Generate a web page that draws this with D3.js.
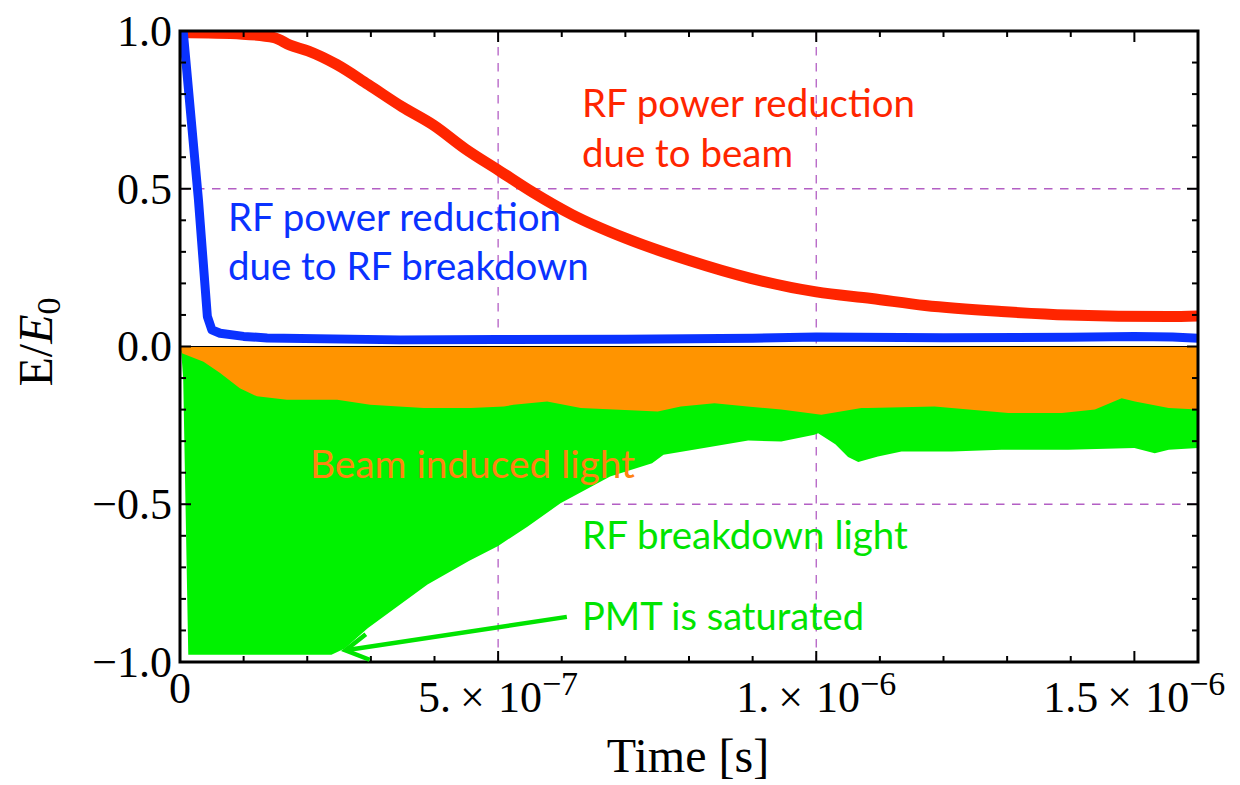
<!DOCTYPE html>
<html>
<head>
<meta charset="utf-8">
<script src="https://cdn.jsdelivr.net/npm/d3@7"></script>
<style>
  html, body { margin: 0; padding: 0; background: #fff; }
  svg { display: block; }
</style>
</head>
<body>
<svg id="chart" width="1240" height="785"></svg>
<script>
// Field decay and photomultiplier light signals versus time (time in microseconds).

// RF field, beam-loaded cavity
const redTimeUs = [0, 0.098, 0.148, 0.173, 0.201, 0.246, 0.296, 0.349, 0.399, 0.448, 0.502, 0.555, 0.616, 0.699, 0.798, 0.897, 1.0, 1.087, 1.171, 1.291, 1.396, 1.554, 1.6];
const redValue  = [0.995, 0.99, 0.979, 0.955, 0.937, 0.894, 0.83, 0.76, 0.701, 0.627, 0.557, 0.488, 0.418, 0.344, 0.274, 0.216, 0.173, 0.152, 0.13, 0.111, 0.1, 0.095, 0.097];

// RF field, breakdown event
const blueTimeUs = [0.005, 0.029, 0.043, 0.05, 0.063, 0.1, 0.137, 0.346, 0.5, 0.7, 0.9, 1.0, 1.2, 1.4, 1.5, 1.56, 1.6];
const blueValue  = [1.0, 0.465, 0.095, 0.053, 0.042, 0.032, 0.027, 0.021, 0.022, 0.023, 0.026, 0.03, 0.028, 0.029, 0.032, 0.03, 0.026];

// Light signal, beam induced (negative-going PMT trace)
const orangeTimeUs = [0, 0.003, 0.037, 0.063, 0.094, 0.121, 0.168, 0.247, 0.299, 0.383, 0.457, 0.509, 0.524, 0.577, 0.63, 0.682, 0.751, 0.787, 0.84, 0.892, 0.945, 1.008, 1.071, 1.081, 1.186, 1.302, 1.386, 1.438, 1.48, 1.501, 1.554, 1.6];
const orangeValue  = [0, -0.021, -0.048, -0.084, -0.132, -0.158, -0.169, -0.169, -0.185, -0.195, -0.195, -0.19, -0.185, -0.174, -0.195, -0.2, -0.206, -0.19, -0.18, -0.19, -0.2, -0.216, -0.195, -0.195, -0.19, -0.211, -0.211, -0.2, -0.164, -0.174, -0.195, -0.2];

// Light signal, RF breakdown (saturates near -1)
const greenTimeUs = [0, 0.002, 0.005, 0.013, 0.238, 0.259, 0.295, 0.346, 0.389, 0.454, 0.5, 0.546, 0.598, 0.676, 0.742, 0.76, 0.814, 0.893, 0.945, 0.997, 1.003, 1.03, 1.05, 1.066, 1.097, 1.134, 1.213, 1.291, 1.396, 1.5, 1.532, 1.554, 1.6];
const greenValue  = [0, -0.02, -0.1, -0.977, -0.977, -0.957, -0.893, -0.818, -0.754, -0.68, -0.632, -0.571, -0.497, -0.412, -0.37, -0.343, -0.325, -0.298, -0.301, -0.28, -0.275, -0.31, -0.35, -0.366, -0.349, -0.333, -0.333, -0.327, -0.327, -0.322, -0.338, -0.327, -0.322];

// Axes
const xMajorTicks = [0, 0.5, 1.0, 1.5];
const xTickMantissa = ["0", "5.", "1.", "1.5"];
const xTickExponent = ["", "−7", "−6", "−6"];
const yMajorTicks = [-1, -0.5, 0, 0.5, 1];
const yTickLabels = ["−1.0", "−0.5", "0.0", "0.5", "1.0"];
const xGrid = [0.5, 1.0];
const yGrid = [-0.5, 0.5];

// Arrow pointing at the saturated PMT plateau: [tail, head]
const arrowTimeUs = [0.608, 0.26];
const arrowValue  = [-0.857, -0.963];

const svg = d3.select("#chart");
const plotLeft = 180, plotRight = 1198, plotTop = 31, plotBottom = 662;

const x = d3.scaleLinear().domain([0, 1.6]).range([plotLeft, plotRight]);
const y = d3.scaleLinear().domain([-1, 1]).range([plotBottom, plotTop]);

const serif = "'Liberation Serif', 'Times New Roman', serif";
const sans = "Lato, 'Open Sans', 'Noto Sans', sans-serif";

svg.append("defs").append("clipPath").attr("id", "plotClip")
  .append("rect").attr("x", plotLeft).attr("y", plotTop)
  .attr("width", plotRight - plotLeft).attr("height", plotBottom - plotTop);

// Grid lines (behind the data)
const gridColor = "#b35fc4";
const grid = svg.append("g").attr("stroke", gridColor).attr("stroke-width", 1.3).attr("stroke-dasharray", "8.5,7.5");
grid.selectAll("line.gx").data(xGrid).join("line").attr("class", "gx")
  .attr("x1", d => x(d)).attr("x2", d => x(d)).attr("y1", plotTop).attr("y2", plotBottom);
grid.selectAll("line.gy").data(yGrid).join("line").attr("class", "gy")
  .attr("x1", plotLeft).attr("x2", plotRight).attr("y1", d => y(d)).attr("y2", d => y(d));

const plot = svg.append("g").attr("clip-path", "url(#plotClip)");

const zip = (ts, vs) => ts.map((t, i) => [t, vs[i]]);

// Filled light signals
const area = d3.area().x(d => x(d[0])).y0(y(0)).y1(d => y(d[1]));
plot.append("path").datum(zip(greenTimeUs, greenValue))
  .attr("d", area).attr("fill", "#00f200");
plot.append("path").datum(zip(orangeTimeUs, orangeValue))
  .attr("d", area).attr("fill", "#ff9400");

// Zero line
plot.append("line").attr("x1", plotLeft).attr("x2", plotRight).attr("y1", y(0)).attr("y2", y(0))
  .attr("stroke", "#000").attr("stroke-width", 1.2);

// Field curves
const smoothLine = d3.line().x(d => x(d[0])).y(d => y(d[1])).curve(d3.curveMonotoneX);
const line = d3.line().x(d => x(d[0])).y(d => y(d[1]));
plot.append("path").datum(zip(redTimeUs, redValue))
  .attr("d", smoothLine).attr("fill", "none").attr("stroke", "#ff2500").attr("stroke-width", 11)
  .attr("stroke-linejoin", "round");
plot.append("path").datum([[0, 1.0]].concat(zip(blueTimeUs, blueValue)).slice(1))
  .attr("d", line).attr("fill", "none").attr("stroke", "#0a32ff").attr("stroke-width", 9)
  .attr("stroke-linejoin", "round");

// Frame and ticks
const axes = svg.append("g");
axes.append("rect").attr("x", plotLeft).attr("y", plotTop)
  .attr("width", plotRight - plotLeft).attr("height", plotBottom - plotTop)
  .attr("fill", "none").attr("stroke", "#000").attr("stroke-width", 3);

const xMinor = d3.range(0, 17).map(i => i / 10);
const yMinor = d3.range(-10, 11).map(i => i / 10);
const isMajorX = v => xMajorTicks.some(m => Math.abs(m - v) < 1e-9);
const isMajorY = v => yMajorTicks.some(m => Math.abs(m - v) < 1e-9);

const tickG = axes.append("g").attr("stroke", "#000").attr("stroke-width", 2);
xMinor.forEach(v => {
  const len = isMajorX(v) ? 11 : 6;
  tickG.append("line").attr("x1", x(v)).attr("x2", x(v)).attr("y1", plotBottom).attr("y2", plotBottom - len);
  tickG.append("line").attr("x1", x(v)).attr("x2", x(v)).attr("y1", plotTop).attr("y2", plotTop + len);
});
yMinor.forEach(v => {
  const len = isMajorY(v) ? 11 : 6;
  tickG.append("line").attr("x1", plotLeft).attr("x2", plotLeft + len).attr("y1", y(v)).attr("y2", y(v));
  tickG.append("line").attr("x1", plotRight).attr("x2", plotRight - len).attr("y1", y(v)).attr("y2", y(v));
});

// Y tick labels
axes.selectAll("text.yl").data(yMajorTicks).join("text").attr("class", "yl")
  .attr("x", 172).attr("y", d => y(d)).attr("dy", "0.34em")
  .attr("text-anchor", "end").attr("font-family", serif).attr("font-size", 44)
  .text((d, i) => yTickLabels[i]);

// X tick labels: mantissa × 10^exponent
xMajorTicks.forEach((v, i) => {
  if (!xTickExponent[i]) {
    axes.append("text").attr("x", x(v)).attr("y", 703).attr("text-anchor", "middle")
      .attr("font-family", serif).attr("font-size", 44).text(xTickMantissa[i]);
    return;
  }
  const t = axes.append("text").attr("x", x(v)).attr("y", 712).attr("text-anchor", "middle")
    .attr("font-family", serif).attr("font-size", 44);
  t.append("tspan").text(xTickMantissa[i]);
  t.append("tspan").attr("dx", 9).text("×");
  t.append("tspan").attr("dx", 13).text("10");
  t.append("tspan").attr("dx", 0).attr("dy", -17).attr("font-size", 34).text(xTickExponent[i]);
});

// Axis titles
axes.append("text").attr("x", 688).attr("y", 772).attr("text-anchor", "middle")
  .attr("font-family", serif).attr("font-size", 48).text("Time [s]");

const yt = axes.append("text").attr("transform", "translate(52,342) rotate(-90)")
  .attr("text-anchor", "middle").attr("font-family", serif).attr("font-size", 48);
yt.append("tspan").text("E/");
yt.append("tspan").attr("font-style", "italic").text("E");
yt.append("tspan").attr("dy", 8).attr("font-size", 34).text("0");

// Annotations: text fitted to the widths they occupy
let noteSize = 40;
function note(lines, x0, baselines, width, color) {
  lines.forEach((s, k) => {
    const t = svg.append("text").attr("x", x0).attr("y", baselines[k])
      .attr("font-family", sans).attr("font-size", 40).attr("fill", color).text(s);
    if (k === 0) {
      const w = t.node().getComputedTextLength();
      noteSize = 40 * width / w;
    }
    t.attr("font-size", noteSize);
  });
}
note(["RF power reduction", "due to beam"], 582, [117, 167], 333, "#ff2500");
note(["RF power reduction", "due to RF breakdown"], 228, [231, 280], 333, "#0a32ff");
note(["Beam induced light"], 310, [478], 325, "#ff8410");
note(["RF breakdown light"], 582, [549], 326, "#00e400");
note(["PMT is saturated"], 582, [630], 282, "#00e400");

// Arrow
const ax0 = x(arrowTimeUs[0]), ay0 = y(arrowValue[0]);
const ax1 = x(arrowTimeUs[1]), ay1 = y(arrowValue[1]);
const ang = Math.atan2(ay0 - ay1, ax0 - ax1);
const headLen = 26, spread = 0.52;
const arrow = svg.append("g").attr("stroke", "#00e400").attr("stroke-width", 4.5)
  .attr("fill", "none").attr("stroke-linecap", "butt");
arrow.append("line").attr("x1", ax0).attr("y1", ay0)
  .attr("x2", ax1 + 2 * Math.cos(ang)).attr("y2", ay1 + 2 * Math.sin(ang));
arrow.append("path").attr("stroke-linejoin", "miter")
  .attr("d", `M${ax1 + headLen * Math.cos(ang - spread)},${ay1 + headLen * Math.sin(ang - spread)}` +
             `L${ax1},${ay1}` +
             `L${ax1 + headLen * Math.cos(ang + spread)},${ay1 + headLen * Math.sin(ang + spread)}`);
</script>
</body>
</html>
